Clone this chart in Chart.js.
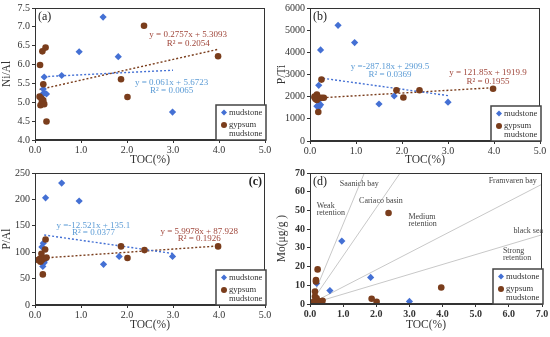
<!DOCTYPE html>
<html>
<head>
<meta charset="utf-8">
<script src="https://cdn.jsdelivr.net/npm/chart.js@4.4.1/dist/chart.umd.min.js"></script>
<style>
  body { margin: 0; background: #fff; width: 550px; height: 337px; position: relative; overflow: hidden; }
  canvas { position: absolute; }
</style>
</head>
<body>
<canvas id="pa" width="275" height="167" style="left:0;top:0"></canvas>
<canvas id="pb" width="275" height="167" style="left:275px;top:0"></canvas>
<canvas id="pc" width="275" height="172" style="left:0;top:165px"></canvas>
<canvas id="pd" width="275" height="172" style="left:275px;top:165px"></canvas>
<script>
// (a) Ni/Al vs TOC
const tocA_mud = [1.48, 0.96, 1.81, 0.58, 0.2, 0.18, 0.2, 0.17, 0.25, 2.99, 0.15];
const niAl_mud = [7.26, 6.34, 6.21, 5.71, 5.67, 5.35, 5.25, 5.22, 5.22, 4.74, 5.1];
const tocA_gyp = [2.37, 0.23, 0.16, 0.11, 0.18, 1.87, 3.98, 2.01, 0.1, 0.15, 0.12, 0.2, 0.18, 0.25, 0.14];
const niAl_gyp = [7.03, 6.45, 6.35, 5.99, 5.48, 5.61, 6.22, 5.14, 5.15, 5.0, 4.92, 4.95, 5.05, 4.49, 5.1];
const trendA_mud = [[0.2, 5.68], [3.0, 5.85]];
const trendA_gyp = [[0.1, 5.34], [4.0, 6.41]];

// (b) P/Ti vs TOC
const tocB_mud = [0.61, 0.97, 0.23, 0.19, 1.5, 1.83, 3.0, 0.15, 0.2, 0.23, 0.18];
const pTi_mud = [5220, 4440, 4110, 2510, 1670, 2030, 1750, 1570, 1550, 1640, 1820];
const tocB_gyp = [0.25, 1.88, 2.38, 3.98, 2.03, 0.18, 0.15, 0.1, 0.12, 0.2, 0.3, 0.25, 0.15, 0.1];
const pTi_gyp = [2770, 2290, 2290, 2360, 1960, 1310, 2100, 2000, 1900, 1950, 1950, 1950, 1850, 1960];
const trendB_mud = [[0.2, 2852], [3.0, 2048]];
const trendB_gyp = [[0.1, 1932], [4.0, 2407]];

// (c) P/Al vs TOC
const tocC_mud = [0.58, 0.23, 0.96, 0.18, 1.83, 1.49, 2.99, 0.17, 0.2, 0.22, 0.15];
const pAl_mud = [231, 203, 197, 117, 92, 77, 92, 73, 80, 85, 110];
const tocC_gyp = [0.23, 0.22, 0.14, 1.87, 2.38, 3.98, 2.01, 0.17, 0.1, 0.12, 0.15, 0.2, 0.25, 0.07];
const pAl_gyp = [124, 105, 97, 111, 104, 111, 89, 58, 87, 82, 85, 88, 90, 85];
const trendC_mud = [[0.2, 132.6], [3.0, 97.5]];
const trendC_gyp = [[0.1, 88.5], [4.0, 111.9]];

// (d) Mo vs TOC
const tocD_mud = [0.96, 1.83, 0.6, 0.2, 3.0, 0.25, 0.2];
const mo_mud = [33.6, 14.2, 7.2, 11, 1.4, 1.7, 2.0];
const tocD_gyp = [2.37, 0.23, 0.18, 0.18, 3.96, 1.86, 2.01, 0.15, 0.15, 0.2, 0.38, 0.3, 0.1, 0.25];
const mo_gyp = [48.6, 18.5, 12.8, 12.0, 8.8, 2.8, 1.2, 6.7, 4.0, 3.0, 1.7, 1.5, 1.0, 0.5];
const refLineNames = ['Saanich bay', 'Cariaco basin', 'Framvaren bay', 'black sea'];
const refLineEnds = [[1.64, 70], [2.72, 70], [7.0, 64], [7.0, 37]];

const BLUE = '#4470d4';
const BROWN = '#7a3d1c';
const BLUE_TXT = '#5b9bd5';
const BROWN_TXT = '#a0463a';
const INK = '#333';
const FONT = "'Liberation Serif', 'DejaVu Serif', serif";

function pts(xs, ys) { return xs.map((x, i) => ({ x: x, y: ys[i] })); }
function seg(p) { return p.map(q => ({ x: q[0], y: q[1] })); }

function makePanel(id, c) {
  const datasets = [
    { data: pts(c.gypX, c.gypY), pointStyle: 'circle', pointRadius: 3.3,
      backgroundColor: BROWN, borderColor: BROWN, borderWidth: 0 },
    { data: pts(c.mudX, c.mudY), pointStyle: 'rectRot', pointRadius: 3.6,
      backgroundColor: BLUE, borderColor: BLUE, borderWidth: 0 }
  ];
  (c.trends || []).forEach(t => datasets.push({
    data: seg(t.p), showLine: true, pointRadius: 0, borderColor: t.color,
    borderWidth: 1.4, borderDash: [2, 2]
  }));
  (c.refs || []).forEach(r => datasets.push({
    data: [{ x: 0, y: 0 }, { x: r[0], y: r[1] }], showLine: true, pointRadius: 0,
    borderColor: '#c8c8c8', borderWidth: 1
  }));

  const decor = {
    id: 'decor',
    afterDraw(chart) {
      const ctx = chart.ctx, a = chart.chartArea;
      const sx = chart.scales.x, sy = chart.scales.y;
      ctx.save();
      // frame
      ctx.strokeStyle = INK; ctx.lineWidth = 1;
      ctx.strokeRect(a.left + 0.5, a.top + 0.5, a.right - a.left - 1, a.bottom - a.top - 1);
      // notes
      ctx.fillStyle = '#444'; ctx.font = '8px ' + FONT; ctx.textAlign = 'left'; ctx.textBaseline = 'middle';
      (c.notes || []).forEach(n => ctx.fillText(n.t, sx.getPixelForValue(n.x), sy.getPixelForValue(n.y)));
      // equations
      ctx.textAlign = 'center'; ctx.font = '9px ' + FONT;
      (c.eqs || []).forEach(e => {
        ctx.fillStyle = e.color;
        ctx.fillText(e.t, sx.getPixelForValue(e.x), sy.getPixelForValue(e.y));
      });
      // panel label
      ctx.fillStyle = '#222'; ctx.font = (c.labelBold ? 'bold ' : '') + '12px ' + FONT;
      ctx.textAlign = c.labelAlign; ctx.fillText(c.label, c.labelX(a), a.top + 9);
      // legend box
      const bw = 50, bh = 35, bx = a.right - bw + 1, by = a.bottom - bh;
      ctx.fillStyle = '#fff'; ctx.fillRect(bx, by, bw, bh);
      ctx.strokeStyle = '#444'; ctx.lineWidth = 1.5; ctx.strokeRect(bx, by, bw, bh);
      ctx.fillStyle = BLUE; ctx.beginPath();
      ctx.moveTo(bx + 8, by + 4.5); ctx.lineTo(bx + 11, by + 7.5); ctx.lineTo(bx + 8, by + 10.5); ctx.lineTo(bx + 5, by + 7.5);
      ctx.closePath(); ctx.fill();
      ctx.fillStyle = BROWN; ctx.beginPath(); ctx.arc(bx + 8, by + 20, 3, 0, Math.PI * 2); ctx.fill();
      ctx.fillStyle = INK; ctx.font = '8.6px ' + FONT; ctx.textAlign = 'left';
      ctx.fillText('mudstone', bx + 13, by + 8);
      ctx.fillText('gypsum', bx + 13, by + 20);
      ctx.fillText('mudstone', bx + 13, by + 29);
      ctx.restore();
    }
  };

  new Chart(document.getElementById(id), {
    type: 'scatter',
    data: { datasets: datasets },
    plugins: [decor],
    options: {
      responsive: false,
      animation: false,
      layout: { padding: { top: c.padTop, right: c.padRight, left: 0, bottom: 0 } },
      plugins: { legend: { display: false }, tooltip: { enabled: false } },
      scales: {
        x: {
          type: 'linear', min: 0, max: c.xMax,
          ticks: { stepSize: 1, callback: v => v.toFixed(1), color: INK, padding: 1,
                   font: { family: FONT, size: 10, weight: c.boldTicks ? 'bold' : 'normal' } },
          grid: { drawOnChartArea: false, tickLength: 3, color: INK },
          border: { color: INK },
          title: { display: true, text: 'TOC(%)', color: INK, font: { family: FONT, size: 11.5 },
                   padding: { top: 0, bottom: c.xTitlePad } },
          afterFit(s) { s.height = c.xHeight; }
        },
        y: {
          type: 'linear', min: c.yMin, max: c.yMax,
          ticks: { stepSize: c.yStep, callback: c.yFmt, color: INK, padding: 2,
                   font: { family: FONT, size: 10, weight: c.boldTicks ? 'bold' : 'normal' } },
          grid: { drawOnChartArea: false, tickLength: 3, color: INK },
          border: { color: INK },
          title: { display: true, text: c.yTitle, color: INK, font: { family: FONT, size: 11.5 },
                   padding: { top: 0, bottom: 3 } },
          afterFit(s) { s.width = 35; }
        }
      }
    }
  });
}

makePanel('pa', {
  mudX: tocA_mud, mudY: niAl_mud, gypX: tocA_gyp, gypY: niAl_gyp,
  trends: [{ p: trendA_mud, color: BLUE }, { p: trendA_gyp, color: BROWN }],
  eqs: [
    { t: 'y = 0.2757x + 5.3093', x: 3.33, y: 6.79, color: BROWN_TXT },
    { t: 'R² = 0.2054', x: 3.33, y: 6.56, color: BROWN_TXT },
    { t: 'y = 0.061x + 5.6723', x: 2.97, y: 5.53, color: BLUE_TXT },
    { t: 'R² = 0.0065', x: 2.97, y: 5.31, color: BLUE_TXT }
  ],
  xMax: 5, yMin: 4, yMax: 7.5, yStep: 0.5, yFmt: v => v.toFixed(1), yTitle: 'Ni/Al',
  label: '(a)', labelAlign: 'left', labelX: a => a.left + 3,
  padTop: 7, padRight: 10, xHeight: 27, xTitlePad: 0
});

makePanel('pb', {
  mudX: tocB_mud, mudY: pTi_mud, gypX: tocB_gyp, gypY: pTi_gyp,
  trends: [{ p: trendB_mud, color: BLUE }, { p: trendB_gyp, color: BROWN }],
  eqs: [
    { t: 'y =-287.18x + 2909.5', x: 1.74, y: 3360, color: BLUE_TXT },
    { t: 'R² = 0.0369', x: 1.74, y: 3000, color: BLUE_TXT },
    { t: 'y = 121.85x + 1919.9', x: 3.87, y: 3090, color: BROWN_TXT },
    { t: 'R² = 0.1955', x: 3.87, y: 2690, color: BROWN_TXT }
  ],
  xMax: 5, yMin: 0, yMax: 6000, yStep: 1000, yFmt: v => String(v), yTitle: 'P/Ti',
  label: '(b)', labelAlign: 'left', labelX: a => a.left + 3,
  padTop: 7, padRight: 10, xHeight: 26, xTitlePad: 0
});

makePanel('pc', {
  mudX: tocC_mud, mudY: pAl_mud, gypX: tocC_gyp, gypY: pAl_gyp,
  trends: [{ p: trendC_mud, color: BLUE }, { p: trendC_gyp, color: BROWN }],
  eqs: [
    { t: 'y =-12.521x + 135.1', x: 1.27, y: 150, color: BLUE_TXT },
    { t: 'R² = 0.0377', x: 1.27, y: 137, color: BLUE_TXT },
    { t: 'y = 5.9978x + 87.928', x: 3.57, y: 139, color: BROWN_TXT },
    { t: 'R² = 0.1926', x: 3.57, y: 126, color: BROWN_TXT }
  ],
  xMax: 5, yMin: 0, yMax: 250, yStep: 50, yFmt: v => String(v), yTitle: 'P/Al',
  label: '(c)', labelBold: true, labelAlign: 'right', labelX: a => a.right - 3,
  padTop: 7, padRight: 10, xHeight: 32, xTitlePad: 5
});

makePanel('pd', {
  mudX: tocD_mud, mudY: mo_mud, gypX: tocD_gyp, gypY: mo_gyp,
  refs: refLineEnds,
  notes: [
    { t: refLineNames[0], x: 0.9, y: 64.4 },
    { t: refLineNames[1], x: 1.48, y: 55.3 },
    { t: refLineNames[2], x: 5.39, y: 65.8 },
    { t: refLineNames[3], x: 6.14, y: 39 },
    { t: 'Weak', x: 0.2, y: 52.5 }, { t: 'retention', x: 0.2, y: 48.6 },
    { t: 'Medium', x: 2.97, y: 46.5 }, { t: 'retention', x: 2.97, y: 42.6 },
    { t: 'Strong', x: 5.82, y: 28.5 }, { t: 'retention', x: 5.82, y: 24.5 }
  ],
  xMax: 7, yMin: 0, yMax: 70, yStep: 10, yFmt: v => String(v), yTitle: 'Mo(μg/g )',
  label: '(d)', labelAlign: 'left', labelX: a => a.left + 3, boldTicks: true,
  padTop: 6, padRight: 8, xHeight: 33, xTitlePad: 5
});
</script>
</body>
</html>
